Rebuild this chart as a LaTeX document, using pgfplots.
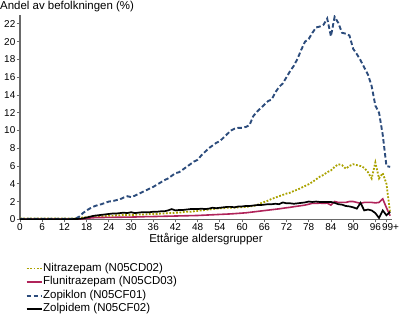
\documentclass[border=0pt]{standalone}
\usepackage{fontspec}
\setmainfont{Liberation Sans}
\usepackage{pgfplots}
\usepackage{pgfplotstable}
\pgfplotsset{compat=1.18}
\definecolor{nitc}{RGB}{170,162,0}
\definecolor{fluc}{RGB}{176,36,90}
\definecolor{zopc}{RGB}{44,76,124}
\definecolor{axc}{RGB}{105,105,105}
\pgfplotstableread{
age nit flu zop zol
0 0.10 0.02 0.05 0.02
1 0.10 0.02 0.05 0.02
2 0.10 0.02 0.05 0.02
3 0.10 0.02 0.05 0.02
4 0.10 0.02 0.05 0.02
5 0.10 0.02 0.05 0.02
6 0.10 0.02 0.05 0.02
7 0.10 0.02 0.05 0.02
8 0.10 0.02 0.05 0.02
9 0.10 0.02 0.05 0.02
10 0.10 0.02 0.05 0.02
11 0.10 0.02 0.05 0.02
12 0.10 0.02 0.05 0.02
13 0.10 0.02 0.05 0.02
14 0.10 0.02 0.06 0.02
15 0.10 0.02 0.08 0.03
16 0.15 0.03 0.30 0.05
17 0.20 0.05 0.70 0.10
18 0.25 0.10 1.00 0.20
19 0.30 0.15 1.25 0.30
20 0.30 0.18 1.45 0.40
21 0.35 0.20 1.60 0.45
22 0.35 0.20 1.70 0.50
23 0.35 0.21 1.85 0.55
24 0.40 0.22 2.00 0.60
25 0.40 0.22 2.05 0.65
26 0.45 0.23 2.15 0.65
27 0.45 0.23 2.25 0.70
28 0.50 0.24 2.45 0.75
29 0.50 0.25 2.60 0.70
30 0.50 0.25 2.50 0.80
31 0.50 0.26 2.65 0.70
32 0.55 0.27 2.85 0.75
33 0.55 0.28 3.05 0.80
34 0.55 0.30 3.25 0.80
35 0.60 0.30 3.45 0.80
36 0.60 0.31 3.65 0.85
37 0.60 0.32 3.90 0.85
38 0.65 0.33 4.15 0.90
39 0.65 0.34 4.40 0.90
40 0.70 0.35 4.60 1.00
41 0.70 0.36 4.90 1.15
42 0.75 0.37 5.20 1.00
43 0.75 0.38 5.30 1.05
44 0.80 0.39 5.60 1.05
45 0.85 0.40 5.90 1.10
46 0.85 0.41 6.20 1.15
47 0.90 0.42 6.50 1.15
48 0.95 0.43 6.70 1.15
49 1.00 0.45 7.20 1.20
50 1.05 0.47 7.60 1.15
51 1.10 0.49 8.00 1.20
52 1.15 0.51 8.30 1.30
53 1.20 0.53 8.60 1.25
54 1.25 0.55 8.80 1.30
55 1.25 0.57 9.20 1.35
56 1.30 0.59 9.60 1.40
57 1.30 0.61 10.0 1.40
58 1.30 0.64 10.2 1.35
59 1.35 0.67 10.3 1.45
60 1.35 0.70 10.3 1.45
61 1.40 0.73 10.4 1.50
62 1.45 0.78 10.6 1.50
63 1.50 0.83 11.6 1.55
64 1.60 0.88 12.1 1.60
65 1.80 0.93 12.5 1.60
66 1.95 0.98 12.9 1.65
67 2.10 1.03 13.3 1.70
68 2.30 1.08 13.5 1.70
69 2.45 1.13 14.3 1.75
70 2.60 1.18 14.9 1.70
71 2.75 1.24 15.3 1.90
72 2.90 1.30 16.0 1.80
73 3.00 1.35 16.7 1.80
74 3.20 1.42 17.3 1.75
75 3.35 1.48 18.1 1.80
76 3.55 1.54 19.1 1.85
77 3.75 1.60 20.0 1.90
78 3.95 1.70 20.3 2.00
79 4.20 1.80 21.0 1.95
80 4.50 1.80 21.6 2.00
81 4.80 1.82 21.7 1.95
82 5.00 1.80 21.9 1.95
83 5.30 1.82 22.6 1.95
84 5.50 1.60 20.6 1.95
85 5.90 2.00 22.8 1.85
86 6.20 1.90 22.1 1.70
87 6.10 1.90 21.0 1.65
88 5.70 1.90 20.9 1.50
89 6.00 2.00 20.7 1.45
90 6.20 2.00 19.2 1.35
91 6.10 1.90 18.6 1.20
92 6.00 1.80 17.9 1.85
93 5.80 1.90 17.1 1.00
94 5.30 1.90 16.3 1.10
95 4.60 1.90 15.0 1.00
96 6.40 1.85 12.8 0.70
97 4.60 1.90 12.0 0.15
98 5.20 2.30 9.5 1.00
99 4.00 1.30 6.0 0.45
100 0.70 0.40 5.9 0.85
}\datatable
\begin{document}
\begin{tikzpicture}[x=1bp,y=1bp]
\path[use as bounding box] (-20,-97.7) rectangle (380,219.3);
\begin{axis}[
  at={(0,0)}, anchor=south west,
  scale only axis, width=372bp, height=204.3bp,
  xmin=0, xmax=100.5, ymin=0, ymax=23,
  axis lines=left,
  axis line style={-, axc, line width=1.2bp},
  tick align=outside,
  major tick length=3bp,
  tick style={axc, line width=0.8bp},
  xtick={0,6,12,18,24,30,36,42,48,54,60,66,72,78,84,90,96,99},
  xticklabels={0,6,12,18,24,30,36,42,48,54,60,66,72,78,84,90,96,\hspace{8bp}99+},
  ytick={0,2,4,6,8,10,12,14,16,18,20,22},
  /pgf/number format/assume math mode=true,
  ticklabel style={font=\fontsize{10}{12}\selectfont},
  xticklabel style={inner sep=1.5bp},
  yticklabel style={inner sep=1.5bp},
  xlabel={Ettårige aldersgrupper},
  xlabel style={font=\fontsize{11.5}{13}\selectfont, inner sep=1bp},
  legend style={at={(axis description cs:0.015,-0.212)}, anchor=north west,
    draw=none, fill=none, inner sep=0pt,
    font=\fontsize{11.5}{13}\selectfont,
    nodes={inner sep=0.5bp, text height=8bp, text depth=2.5bp},
    row sep=2bp},
  legend cell align=left,
  legend image code/.code={\draw[#1] (0bp,0bp) -- (15bp,0bp);},
]
\addplot[nitc, line width=1.8bp, dash pattern=on 1.8bp off 1.6bp] table[x=age,y=nit] {\datatable};
\addlegendentry{Nitrazepam (N05CD02)}
\addplot[fluc, line width=1.6bp] table[x=age,y=flu] {\datatable};
\addlegendentry{Flunitrazepam (N05CD03)}
\addplot[zopc, line width=1.9bp, dash pattern=on 4.5bp off 2.5bp] table[x=age,y=zop] {\datatable};
\addlegendentry{Zopiklon (N05CF01)}
\addplot[black, line width=1.7bp] table[x=age,y=zol] {\datatable};
\addlegendentry{Zolpidem (N05CF02)}
\end{axis}
\node[anchor=base west, inner sep=0pt, font=\fontsize{11.5}{13}\selectfont] at (-20,209.8) {Andel av befolkningen (\%)};
\end{tikzpicture}
\end{document}
